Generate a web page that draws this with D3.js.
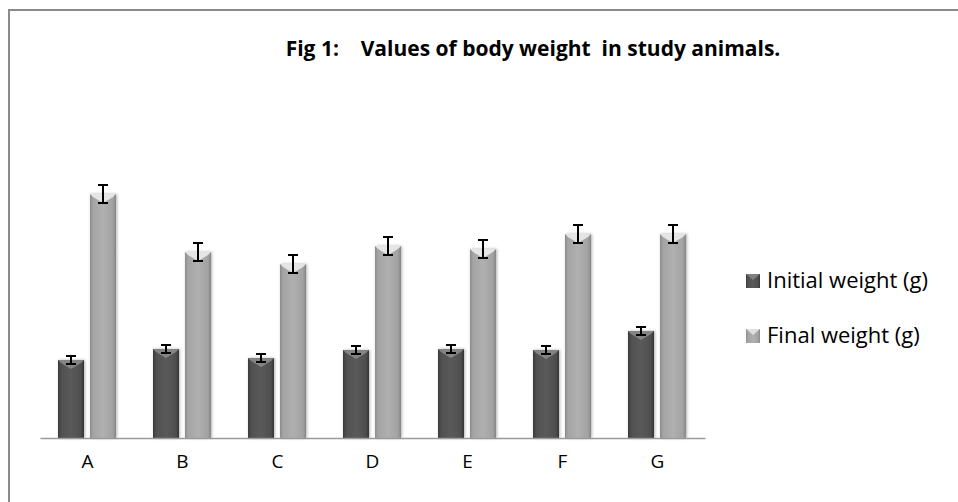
<!DOCTYPE html>
<html lang="en">
<head>
<meta charset="UTF-8">
<title>Fig 1 body weight</title>
<script src="https://d3js.org/d3.v7.min.js"></script>
<style>
  body { margin: 0; background: #fff; }
  text { font-family: "Open Sans", "Noto Sans", sans-serif; }
</style>
</head>
<body>
<svg id="chart"></svg>
<script>
// animal groups
const groups = ["A", "B", "C", "D", "E", "F", "G"];
const seriesNames = ["Initial weight (g)", "Final weight (g)"];
// values (arbitrary units, no y axis in source)
const initialWeight = [78, 89, 80, 88, 89, 88, 107];
const finalWeight = [244, 186, 174, 192, 189, 204, 204];
const initialErr = [4, 4, 4, 4, 4, 4, 4];
const finalErr = [9, 9, 9, 9, 9, 9, 9];

const W = 958, H = 502;
const svg = d3.select("#chart").attr("width", W).attr("height", H);

// frame (top + left edges visible)
svg.append("path")
  .attr("d", `M9,${H} L9,10 L${W},10`)
  .attr("fill", "none").attr("stroke", "#8a8a8a").attr("stroke-width", 2);

svg.append("text")
  .attr("x", 533).attr("y", 56)
  .attr("text-anchor", "middle")
  .attr("font-size", 21).attr("font-weight", "bold")
  .attr("xml:space", "preserve")
  .text("Fig 1:    Values of body weight  in study animals.");

const x0 = d3.scaleBand().domain(groups).range([40, 705]);
const x1 = d3.scaleBand().domain(seriesNames).range([18, 76]).paddingInner(0.1875);
const y = d3.scaleLinear().domain([0, 300]).range([438, 138]);

const defs = svg.append("defs");
function grad(id, stops) {
  const g = defs.append("linearGradient").attr("id", id)
    .attr("x1", 0).attr("x2", 1).attr("y1", 0).attr("y2", 0);
  stops.forEach(s => g.append("stop").attr("offset", s[0]).attr("stop-color", s[1]));
}
grad("gInit", [[0, "#3a3a3a"], [0.12, "#505050"], [0.5, "#5a5a5a"], [0.88, "#4e4e4e"], [1, "#333"]]);
grad("gFinal", [[0, "#8c8c8c"], [0.12, "#a4a4a4"], [0.5, "#b0b0b0"], [0.88, "#a2a2a2"], [1, "#858585"]]);
const shadow = defs.append("filter").attr("id", "sh").attr("x", "-30%").attr("width", "160%");
shadow.append("feDropShadow").attr("dx", 1).attr("dy", 0).attr("stdDeviation", 1.5)
  .attr("flood-color", "#000").attr("flood-opacity", 0.3);

const fills = ["url(#gInit)", "url(#gFinal)"];
const tops = ["#8a8a8a", "#ececec"];

const rows = groups.map((g, i) => ({
  g, vals: [initialWeight[i], finalWeight[i]], errs: [initialErr[i], finalErr[i]]
}));

const cat = svg.selectAll(".cat").data(rows).join("g")
  .attr("class", "cat")
  .attr("transform", d => `translate(${x0(d.g)},0)`);

const bars = cat.selectAll(".bar")
  .data(d => d.vals.map((v, k) => ({ v, k, e: d.errs[k], s: seriesNames[k] })))
  .join("g").attr("class", "bar");

const bw = x1.bandwidth();
bars.append("rect")
  .attr("x", d => x1(d.s)).attr("y", d => y(d.v))
  .attr("width", bw).attr("height", d => y(0) - y(d.v))
  .attr("fill", d => fills[d.k])
  .attr("filter", "url(#sh)");

// bevel highlight at top
bars.append("path")
  .attr("d", d => {
    const l = x1(d.s), r = l + bw, t = y(d.v);
    return `M${l},${t} L${r},${t} L${r - 3},${t + 3} L${l + bw / 2},${t + 9} L${l + 3},${t + 3} Z`;
  })
  .attr("fill", d => tops[d.k]).attr("opacity", 0.9);

// error bars
bars.append("path")
  .attr("d", d => {
    const c = x1(d.s) + bw / 2, a = y(d.v + d.e), b = y(d.v - d.e);
    return `M${c - 5},${a} H${c + 5} M${c},${a} V${b} M${c - 5},${b} H${c + 5}`;
  })
  .attr("stroke", "#000").attr("stroke-width", 2).attr("fill", "none");

// x axis
const xAxis = d3.axisBottom(x0).tickSize(0).tickPadding(17);
const ax = svg.append("g").attr("transform", `translate(0,${y(0)})`).call(xAxis);
ax.select(".domain").attr("stroke", "#9a9a9a").attr("stroke-width", 1.5);
ax.selectAll("text").attr("font-size", 19).attr("fill", "#000")
  .attr("font-family", "'Open Sans', 'Noto Sans', sans-serif");

// legend
const leg = svg.selectAll(".leg").data(seriesNames).join("g")
  .attr("class", "leg")
  .attr("transform", (d, i) => `translate(746,${274 + i * 55})`);
leg.append("rect").attr("width", 14).attr("height", 14)
  .attr("fill", (d, i) => fills[i]);
leg.append("path")
  .attr("d", "M0,0 L14,0 L7,6 Z")
  .attr("fill", (d, i) => tops[i]).attr("opacity", 0.8);
leg.append("text").attr("x", 21).attr("y", 14)
  .attr("font-size", 22).attr("fill", "#000")
  .text(d => d);
</script>
</body>
</html>
